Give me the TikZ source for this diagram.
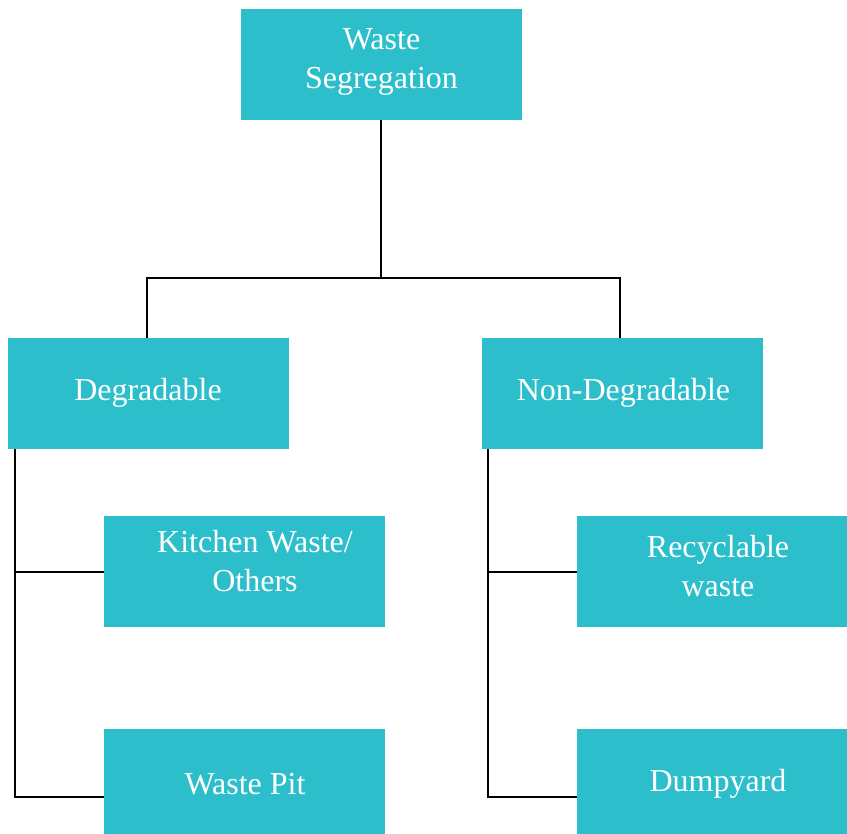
\documentclass[tikz,border=0pt]{standalone}
\usepackage{fontspec}
\setmainfont{Liberation Serif}
\definecolor{boxc}{HTML}{2CBFCB}
\begin{document}
\begin{tikzpicture}[x=1pt,y=-1pt,
  box/.style={fill=boxc,draw=none,minimum width=281pt,minimum height=111pt,inner sep=0pt,
    text=white,align=center},
  lbl/.style={text=white,align=center,inner sep=0pt,font=\fontsize{32}{39}\selectfont},
  conn/.style={draw=black,line width=2pt}]
\useasboundingbox (0,0) rectangle (847,834);
\clip (0,0) rectangle (847,834);
\node[box] (top) at (381,64.5) {};
\node[box] (deg) at (148.5,393.5) {};
\node[box] (non) at (622.5,393.5) {};
\node[box] (kit) at (244.5,571.5) {};
\node[box] (pit) at (244.5,784.5) {};
\node[box] (rec) at (717.5,571.5) {};
\node[box] (dum) at (717.5,784.5) {};
\node[lbl] (ttop) at (381.5,61.5) {Waste\\Segregation};
\node[lbl] (tdeg) at (148,393) {Degradable};
\node[lbl] (tnon) at (623.5,393) {Non-Degradable};
\node[lbl] (tkit) at (255,561) {Kitchen Waste/\\Others};
\node[lbl] (tpit) at (245,784) {Waste Pit};
\node[lbl] (trec) at (718,566) {Recyclable\\waste};
\node[lbl] (tdum) at (718,784) {Dumpyard};
\coordinate (mid) at (381,278);
\draw[conn] (top.south) -- (mid);
\draw[conn] (mid) -| ([xshift=-1.5pt]deg.north);
\draw[conn] (mid) -| ([xshift=-2.5pt]non.north);
\draw[conn] ([xshift=7pt]deg.south west) |- (kit.west);
\draw[conn] ([xshift=7pt]deg.south west) |- ([yshift=-12.5pt]pit.west);
\draw[conn] ([xshift=6pt]non.south west) |- (rec.west);
\draw[conn] ([xshift=6pt]non.south west) |- ([yshift=-12.5pt]dum.west);
\end{tikzpicture}
\end{document}
